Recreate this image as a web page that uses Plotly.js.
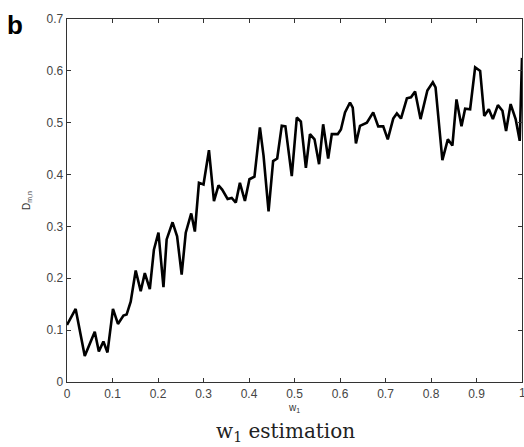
<!DOCTYPE html>
<html>
<head>
<meta charset="utf-8">
<script src="https://cdn.plot.ly/plotly-3.0.1.min.js"></script>
<style>html,body{margin:0;padding:0;background:#fff;}#chart{width:524px;height:447px;}</style>
</head>
<body>
<div id="chart"></div>
<script>
const w1 = [0.000,0.019,0.039,0.061,0.070,0.080,0.089,0.101,0.112,0.124,0.131,0.140,0.151,0.162,0.171,0.182,0.191,0.201,0.212,0.219,0.232,0.242,0.252,0.261,0.273,0.281,0.290,0.300,0.312,0.323,0.333,0.341,0.353,0.362,0.371,0.380,0.391,0.401,0.412,0.417,0.424,0.432,0.443,0.453,0.462,0.472,0.480,0.494,0.505,0.514,0.525,0.534,0.544,0.554,0.563,0.574,0.582,0.595,0.602,0.611,0.622,0.628,0.635,0.644,0.659,0.673,0.684,0.695,0.705,0.717,0.725,0.734,0.747,0.756,0.765,0.777,0.792,0.804,0.810,0.825,0.837,0.847,0.856,0.867,0.875,0.886,0.897,0.908,0.917,0.927,0.936,0.947,0.957,0.965,0.975,0.986,0.995,1.000];
const dmn = [0.110,0.141,0.050,0.097,0.059,0.078,0.057,0.141,0.112,0.128,0.130,0.155,0.215,0.175,0.210,0.179,0.255,0.288,0.183,0.275,0.308,0.281,0.207,0.288,0.325,0.290,0.384,0.381,0.447,0.349,0.379,0.371,0.353,0.355,0.346,0.384,0.349,0.391,0.396,0.436,0.491,0.436,0.329,0.426,0.431,0.494,0.493,0.397,0.510,0.502,0.413,0.478,0.468,0.420,0.497,0.431,0.478,0.478,0.487,0.520,0.539,0.529,0.460,0.494,0.500,0.520,0.493,0.493,0.468,0.508,0.518,0.508,0.547,0.549,0.560,0.507,0.562,0.578,0.568,0.428,0.468,0.456,0.545,0.493,0.527,0.526,0.607,0.600,0.513,0.526,0.507,0.534,0.523,0.484,0.536,0.507,0.465,0.625];
const xTicks = [0,0.1,0.2,0.3,0.4,0.5,0.6,0.7,0.8,0.9,1];
const xTickText = ['0','0.1','0.2','0.3','0.4','0.5','0.6','0.7','0.8','0.9','1'];
const yTicks = [0,0.1,0.2,0.3,0.4,0.5,0.6,0.7];
const yTickText = ['0','0.1','0.2','0.3','0.4','0.5','0.6','0.7'];

const tickFont = {family:'Liberation Sans, Arial, sans-serif', size:12, color:'#444'};
const axisCommon = {
  showgrid:false, zeroline:false, showline:true, mirror:'ticks',
  linecolor:'#333', linewidth:1.3, ticks:'inside', ticklen:4, tickwidth:1, tickcolor:'#333',
  tickfont:tickFont
};
const lastIdx = xTicks.length - 1;
const xTickShown = xTickText.map((t, i) => i === lastIdx ? '' : t);
const layout = {
  width:524, height:447,
  margin:{l:67, r:2, t:19, b:65},
  paper_bgcolor:'#fff', plot_bgcolor:'#fff',
  showlegend:false,
  xaxis:Object.assign({}, axisCommon, {
    range:[0,1], tickmode:'array', tickvals:xTicks, ticktext:xTickShown,
    title:{text:'w<sub>1</sub>', font:{family:'Liberation Sans, Arial, sans-serif', size:10, color:'#333'}, standoff:4}
  }),
  yaxis:Object.assign({}, axisCommon, {
    range:[0,0.7], tickmode:'array', tickvals:yTicks, ticktext:yTickText,
    title:{text:'D<sub>m,n</sub>', font:{family:'Liberation Sans, Arial, sans-serif', size:10, color:'#333'}, standoff:14}
  }),
  annotations:[
    {text:'<b>b</b>', xref:'paper', yref:'paper', x:-0.114, y:0.983, xanchor:'center', yanchor:'middle', showarrow:false,
     font:{family:'Liberation Sans, Arial, sans-serif', size:26, color:'#000'}},
    {text:xTickText[lastIdx], xref:'x', yref:'paper', x:xTicks[lastIdx], y:0, xanchor:'center', yanchor:'top', yshift:-2, showarrow:false,
     font:tickFont},
    {text:'w<sub>1</sub> estimation', xref:'paper', yref:'paper', x:0.48, y:-0.138, xanchor:'center', yanchor:'middle', showarrow:false,
     font:{family:'DejaVu Serif, Liberation Serif, serif', size:20, color:'#222'}}
  ]
};
Plotly.newPlot('chart', [{
  x:w1, y:dmn, type:'scatter', mode:'lines',
  line:{color:'#000', width:2.6}, cliponaxis:true
}], layout, {staticPlot:true, displayModeBar:false});
</script>
</body>
</html>
